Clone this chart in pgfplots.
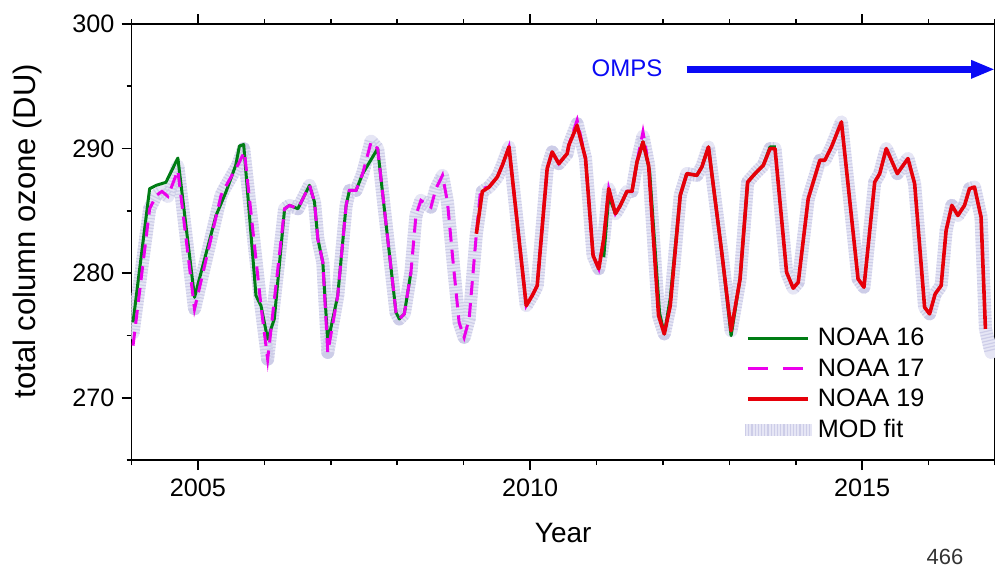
\documentclass[border=0pt]{standalone}
\usepackage{fontspec}
\setmainfont{Liberation Sans}
\usepackage{pgfplots}
\pgfplotsset{compat=1.18}
\usetikzlibrary{arrows.meta}
\definecolor{ngreen}{RGB}{0,125,20}
\definecolor{nmag}{RGB}{235,0,235}
\definecolor{nred}{RGB}{230,0,10}
\definecolor{modc}{RGB}{230,230,245}
\definecolor{modd}{RGB}{205,205,232}
\definecolor{omps}{RGB}{10,10,245}
\pgfplotsset{
  legend image code/.code={\draw[#1] (0pt,0pt) -- (30pt,0pt);},
}
\begin{document}
\begin{tikzpicture}
\begin{axis}[
  at={(0pt,0pt)}, anchor=south west,
  width=431.75pt, height=218pt, scale only axis,
  xmin=2004, xmax=2017, ymin=265, ymax=300,
  xtick={2005,2010,2015},
  minor xtick={2004,2006,2007,2008,2009,2011,2012,2013,2014,2016,2017},
  ytick={270,280,290,300}, minor ytick={265,275,285,295},
  /pgf/number format/1000 sep=,
  /pgf/number format/assume math mode=true,
  tick align=outside, xtick pos=both, ytick pos=left,
  major tick length=5pt, minor tick length=2.5pt,
  tick style={black, line width=0.8pt},
  axis line style={line width=0.8pt},
  ticklabel style={font=\fontsize{12.6}{15}\selectfont},
  xticklabel style={yshift=-1pt},
  xlabel={Year}, ylabel={total column ozone (DU)},
  xlabel style={font=\fontsize{14}{16}\selectfont, at={(axis description cs:0.5,-0.19)}, anchor=base},
  ylabel style={font=\fontsize{15.5}{18}\selectfont, at={(axis description cs:-0.121,0.525)}, anchor=center},
  legend cell align=left,
  legend style={at={(axis description cs:0.703,0.312)}, anchor=north west,
    draw=none, fill=none, inner sep=0pt, row sep=0.8pt,
    nodes={inner xsep=0.8pt},
    /tikz/every odd column/.append style={column sep=-0.8pt},
    font=\fontsize{12.6}{15}\selectfont},
]
% MOD fit band (base + texture)
\addplot[modc, line width=6.5pt, line join=round, line cap=round, forget plot] coordinates {
(2004.023,275.2) (2004.273,285.17) (2004.372,286.24) (2004.458,286.56) (2004.548,286.16)
(2004.698,288.6) (2004.949,277.13) (2005.348,286.24) (2005.399,286.78) (2005.599,288.66)
(2005.689,290.0) (2005.949,277.39) (2006.050,273.10) (2006.305,285.17) (2006.380,285.44)
(2006.505,285.17) (2006.580,285.98) (2006.680,287.05) (2006.755,285.70) (2006.805,282.76)
(2006.880,280.88) (2006.955,273.64) (2007.105,278.20) (2007.231,285.44) (2007.281,286.64)
(2007.381,286.64) (2007.480,287.99) (2007.607,290.6) (2007.706,290.00) (2007.781,286.38)
(2007.982,276.85) (2008.032,276.32) (2008.107,276.73) (2008.207,280.07) (2008.282,284.63)
(2008.357,285.84) (2008.508,285.30) (2008.583,286.78) (2008.682,287.85) (2008.757,285.70)
(2008.832,281.42) (2008.932,276.05) (2009.008,274.84) (2009.083,276.32) (2009.192,283.16)
(2009.282,286.56) (2009.383,286.91) (2009.508,287.72) (2009.583,288.66) (2009.683,290.13)
(2009.943,277.39) (2010.033,278.20) (2010.108,279.00) (2010.258,288.39) (2010.333,289.73)
(2010.434,288.79) (2010.559,289.60) (2010.584,290.27) (2010.709,292.0) (2010.835,289.20)
(2010.949,281.42) (2011.035,280.35) (2011.110,282.76) (2011.185,286.78) (2011.285,284.77)
(2011.360,285.44) (2011.459,286.56) (2011.535,286.56) (2011.610,288.92) (2011.700,291.0)
(2011.785,288.66) (2011.935,276.59) (2012.021,275.12) (2012.111,277.39) (2012.261,286.24)
(2012.360,287.99) (2012.511,287.85) (2012.586,288.52) (2012.686,290.13) (2012.886,281.68)
(2013.027,275.38) (2013.162,279.54) (2013.276,287.31) (2013.387,287.99) (2013.512,288.66)
(2013.613,290.00) (2013.688,290.00) (2013.862,280.07) (2013.962,278.79) (2014.038,279.27)
(2014.188,285.98) (2014.363,289.06) (2014.438,289.06) (2014.538,290.13) (2014.688,292.14)
(2014.938,279.54) (2015.027,278.87) (2015.189,287.31) (2015.264,287.99) (2015.363,290.00)
(2015.529,287.99) (2015.689,289.20) (2015.790,287.18) (2015.940,277.26) (2016.015,276.73)
(2016.099,278.33) (2016.189,279.00) (2016.264,283.43) (2016.350,285.44) (2016.441,284.63)
(2016.541,285.44) (2016.616,286.78) (2016.691,286.91) (2016.790,284.50) (2016.856,275.52)
(2016.940,273.64)
};
\addplot[modd, line width=6.5pt, line join=round, dash pattern=on 0.6pt off 1.0pt, forget plot] coordinates {
(2004.023,275.2) (2004.273,285.17) (2004.372,286.24) (2004.458,286.56) (2004.548,286.16)
(2004.698,288.6) (2004.949,277.13) (2005.348,286.24) (2005.399,286.78) (2005.599,288.66)
(2005.689,290.0) (2005.949,277.39) (2006.050,273.10) (2006.305,285.17) (2006.380,285.44)
(2006.505,285.17) (2006.580,285.98) (2006.680,287.05) (2006.755,285.70) (2006.805,282.76)
(2006.880,280.88) (2006.955,273.64) (2007.105,278.20) (2007.231,285.44) (2007.281,286.64)
(2007.381,286.64) (2007.480,287.99) (2007.607,290.6) (2007.706,290.00) (2007.781,286.38)
(2007.982,276.85) (2008.032,276.32) (2008.107,276.73) (2008.207,280.07) (2008.282,284.63)
(2008.357,285.84) (2008.508,285.30) (2008.583,286.78) (2008.682,287.85) (2008.757,285.70)
(2008.832,281.42) (2008.932,276.05) (2009.008,274.84) (2009.083,276.32) (2009.192,283.16)
(2009.282,286.56) (2009.383,286.91) (2009.508,287.72) (2009.583,288.66) (2009.683,290.13)
(2009.943,277.39) (2010.033,278.20) (2010.108,279.00) (2010.258,288.39) (2010.333,289.73)
(2010.434,288.79) (2010.559,289.60) (2010.584,290.27) (2010.709,292.0) (2010.835,289.20)
(2010.949,281.42) (2011.035,280.35) (2011.110,282.76) (2011.185,286.78) (2011.285,284.77)
(2011.360,285.44) (2011.459,286.56) (2011.535,286.56) (2011.610,288.92) (2011.700,291.0)
(2011.785,288.66) (2011.935,276.59) (2012.021,275.12) (2012.111,277.39) (2012.261,286.24)
(2012.360,287.99) (2012.511,287.85) (2012.586,288.52) (2012.686,290.13) (2012.886,281.68)
(2013.027,275.38) (2013.162,279.54) (2013.276,287.31) (2013.387,287.99) (2013.512,288.66)
(2013.613,290.00) (2013.688,290.00) (2013.862,280.07) (2013.962,278.79) (2014.038,279.27)
(2014.188,285.98) (2014.363,289.06) (2014.438,289.06) (2014.538,290.13) (2014.688,292.14)
(2014.938,279.54) (2015.027,278.87) (2015.189,287.31) (2015.264,287.99) (2015.363,290.00)
(2015.529,287.99) (2015.689,289.20) (2015.790,287.18) (2015.940,277.26) (2016.015,276.73)
(2016.099,278.33) (2016.189,279.00) (2016.264,283.43) (2016.350,285.44) (2016.441,284.63)
(2016.541,285.44) (2016.616,286.78) (2016.691,286.91) (2016.790,284.50) (2016.856,275.52)
(2016.940,273.64)
};
% NOAA 16
\addplot[ngreen, line width=1.5pt, line join=round] coordinates {
(2004.023,276.05) (2004.273,286.78) (2004.372,287.05) (2004.518,287.29) (2004.698,289.24)
(2004.949,278.06) (2005.273,284.63) (2005.419,286.48) (2005.569,288.66) (2005.625,290.21)
(2005.689,290.32) (2005.874,278.20) (2005.949,277.39) (2006.050,274.71) (2006.150,276.32)
(2006.305,285.17) (2006.380,285.44) (2006.505,285.17) (2006.580,285.98) (2006.680,287.05)
(2006.755,285.70) (2006.805,282.76) (2006.880,280.88) (2006.955,274.44) (2007.105,278.20)
(2007.231,285.44) (2007.281,286.64) (2007.381,286.64) (2007.480,287.99) (2007.706,290.00)
(2007.781,286.38) (2007.982,276.85) (2008.032,276.32) (2008.107,276.73) (2008.207,280.07)
};
\addlegendentry{NOAA 16}
\addplot[ngreen, line width=1.5pt, line join=round, forget plot] coordinates {
(2011.110,281.28) (2011.185,286.20) (2011.285,284.77) (2011.360,285.44) (2011.459,286.56)
(2011.535,286.56) (2011.610,288.92) (2011.700,290.53) (2011.800,288.20) (2011.950,276.80)
(2012.021,275.12) (2012.111,278.00) (2012.261,286.24) (2012.360,287.99) (2012.511,287.85)
(2012.586,288.52) (2012.686,290.13) (2012.886,281.68) (2013.027,274.98) (2013.162,279.54)
(2013.276,287.31) (2013.387,287.99) (2013.512,288.66) (2013.613,290.13) (2013.700,290.13)
};
% NOAA 17
\addplot[nmag, line width=1.5pt, dash pattern=on 7pt off 4pt,
  legend image code/.code={\draw[nmag, line width=1.5pt, dash pattern=on 10pt off 7.5pt] (0pt,0pt) -- (30pt,0pt);}] coordinates {
(2004.023,274.18) (2004.273,285.17) (2004.372,286.24) (2004.458,286.56) (2004.548,286.16)
(2004.698,288.25) (2004.949,277.13) (2005.348,286.24) (2005.399,286.78) (2005.599,288.66)
(2005.700,289.73) (2005.949,277.39) (2006.050,273.10) (2006.305,285.17) (2006.380,285.44)
(2006.505,285.17) (2006.580,285.98) (2006.680,287.05) (2006.755,285.70) (2006.805,282.76)
(2006.880,280.88) (2006.955,273.64) (2007.105,278.20) (2007.231,285.44) (2007.281,286.64)
(2007.381,286.64) (2007.480,287.99) (2007.607,290.53) (2007.706,290.00) (2007.781,286.38)
(2007.982,276.85) (2008.032,276.32) (2008.107,276.73) (2008.207,280.07) (2008.282,284.63)
(2008.357,285.84) (2008.508,285.30) (2008.583,286.78) (2008.682,287.85) (2008.757,285.70)
(2008.832,281.42) (2008.932,276.05) (2009.008,274.84) (2009.083,276.32) (2009.192,283.16)
(2009.258,286.78) (2009.383,286.91) (2009.508,287.72) (2009.583,288.66) (2009.683,290.13)
(2009.943,277.39) (2010.033,278.20) (2010.108,279.00) (2010.258,288.39) (2010.333,289.73)
(2010.434,288.79) (2010.559,289.60) (2010.584,290.27) (2010.709,292.28) (2010.835,289.20)
(2010.949,281.42) (2011.035,280.35) (2011.110,282.76) (2011.185,286.78) (2011.285,284.77)
(2011.360,285.44) (2011.459,286.56) (2011.535,286.56) (2011.610,288.92) (2011.700,291.34)
(2011.760,289.50)
};
\addlegendentry{NOAA 17}
% NOAA 19
\addplot[nred, line width=1.8pt, line join=round] coordinates {
(2009.192,283.16) (2009.282,286.56) (2009.383,286.91) (2009.508,287.72) (2009.583,288.66)
(2009.683,290.13) (2009.943,277.39) (2010.033,278.20) (2010.108,279.00) (2010.258,288.39)
(2010.333,289.73) (2010.434,288.79) (2010.559,289.60) (2010.584,290.27) (2010.709,291.87)
(2010.835,289.20) (2010.949,281.42) (2011.035,280.35) (2011.110,282.76) (2011.185,286.78)
(2011.285,284.77) (2011.360,285.44) (2011.459,286.56) (2011.535,286.56) (2011.610,288.92)
(2011.700,290.53) (2011.785,288.66) (2011.935,276.59) (2012.021,275.12) (2012.111,277.39)
(2012.261,286.24) (2012.360,287.99) (2012.511,287.85) (2012.586,288.52) (2012.686,290.13)
(2012.886,281.68) (2013.027,275.38) (2013.162,279.54) (2013.276,287.31) (2013.387,287.99)
(2013.512,288.66) (2013.613,290.00) (2013.688,290.00) (2013.862,280.07) (2013.962,278.79)
(2014.038,279.27) (2014.188,285.98) (2014.363,289.06) (2014.438,289.06) (2014.538,290.13)
(2014.688,292.14) (2014.938,279.54) (2015.027,278.87) (2015.189,287.31) (2015.264,287.99)
(2015.363,290.00) (2015.529,287.99) (2015.689,289.20) (2015.790,287.18) (2015.940,277.26)
(2016.015,276.73) (2016.099,278.33) (2016.189,279.00) (2016.264,283.43) (2016.350,285.44)
(2016.441,284.63) (2016.541,285.44) (2016.616,286.78) (2016.691,286.91) (2016.790,284.50)
(2016.856,275.52)
};
\addlegendentry{NOAA 19}
\addlegendimage{legend image code/.code={
  \draw[modc, line width=6pt] (-1.5pt,0pt) -- (32pt,0pt);
  \draw[modd, line width=6pt, dash pattern=on 0.6pt off 1.0pt] (-1.5pt,0pt) -- (32pt,0pt);}}
\addlegendentry{MOD fit}
\draw[omps, line width=3.3pt, -{Triangle[length=12pt,width=8.5pt]}]
  (axis cs:2012.356,296.36) -- (axis cs:2017,296.36);
\node[text=omps, font=\fontsize{12}{14}\selectfont] at (axis cs:2011.46,296.42) {OMPS};
\end{axis}
\node[anchor=north, inner sep=0pt, font=\fontsize{11}{13}\selectfont, text=black!80] at (406.75pt,-44.5pt) {466};
\pgfresetboundingbox
\useasboundingbox (-65.75pt,-54pt) rectangle (431.75pt,230pt);
\end{tikzpicture}
\end{document}
